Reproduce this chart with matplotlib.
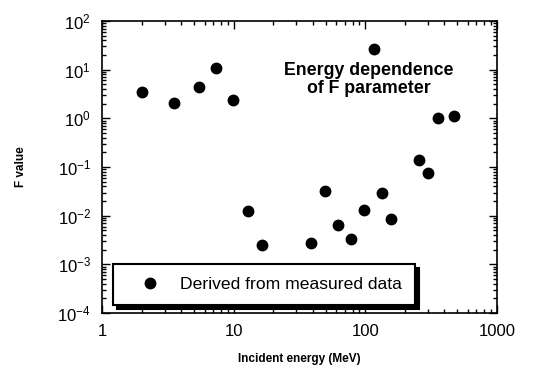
import math
import matplotlib
matplotlib.use("Agg")
import matplotlib.pyplot as plt
from matplotlib.ticker import LogLocator, FuncFormatter, NullFormatter

plt.rcParams['font.family'] = ['Liberation Sans', 'DejaVu Sans']
plt.rcParams['mathtext.fontset'] = 'custom'
plt.rcParams['mathtext.rm'] = 'Liberation Sans'
plt.rcParams['mathtext.it'] = 'Liberation Sans'
plt.rcParams['mathtext.bf'] = 'Liberation Sans:bold'

# incident energy (MeV) and F values
energy = [2.0, 3.5, 5.45, 7.4, 9.9, 12.9, 16.3, 38.4, 49.3, 62, 78, 98,
          117, 135, 157, 257, 300, 358, 471]
f_value = [3.4, 2.1, 4.4, 10.7, 2.35, 0.0124, 0.0025, 0.0028, 0.033,
           0.0066, 0.0033, 0.013, 26, 0.029, 0.0087, 0.142, 0.077, 1.02, 1.12]

legend_label = "Derived from measured data"
note = "Energy dependence\nof F parameter"

fig = plt.figure(figsize=(5.49, 3.75), dpi=100)
ax = fig.add_axes([0.186, 0.165, 0.719, 0.779])

ax.plot(energy, f_value, 'o', color='black', markersize=7.5, label=legend_label)

ax.set_xscale('log')
ax.set_yscale('log')
ax.set_xlim(1, 1000)
ax.set_ylim(1e-4, 1e2)

ax.xaxis.set_major_formatter(FuncFormatter(lambda v, p: "%d" % round(v)))
ax.yaxis.set_major_locator(LogLocator(base=10, numticks=10))
ax.yaxis.set_major_formatter(FuncFormatter(lambda v, p: r"$\mathregular{10^{%d}}$" % round(math.log10(v))))
ax.yaxis.set_minor_locator(LogLocator(base=10, subs=range(2, 10), numticks=20))
ax.yaxis.set_minor_formatter(NullFormatter())
ax.xaxis.set_minor_formatter(NullFormatter())

ax.tick_params(which='both', direction='in', top=True, right=True, width=1.0)
ax.tick_params(which='major', length=6, labelsize=12, pad=8)
ax.tick_params(which='minor', length=3)
for s in ax.spines.values():
    s.set_linewidth(1.2)

ax.set_xlabel("Incident energy (MeV)", fontsize=8.5, fontweight='bold', labelpad=10)
ax.set_ylabel("F value", fontsize=8.5, fontweight='bold', labelpad=22)

ax.text(0.676, 0.80, note, transform=ax.transAxes, ha='center', va='center',
        fontsize=12.8, fontweight='bold', linespacing=1.05)

leg = ax.legend(loc='lower left', bbox_to_anchor=(0.028, 0.027), fancybox=False,
                shadow={'color': 'black', 'alpha': 1, 'ox': 3, 'oy': -3},
                edgecolor='black', framealpha=1, fontsize=12.6, borderpad=0.75,
                handletextpad=0.35, handlelength=2.7, borderaxespad=0.0)
leg.get_frame().set_linewidth(1.5)

fig.savefig("out.png", dpi=100)
